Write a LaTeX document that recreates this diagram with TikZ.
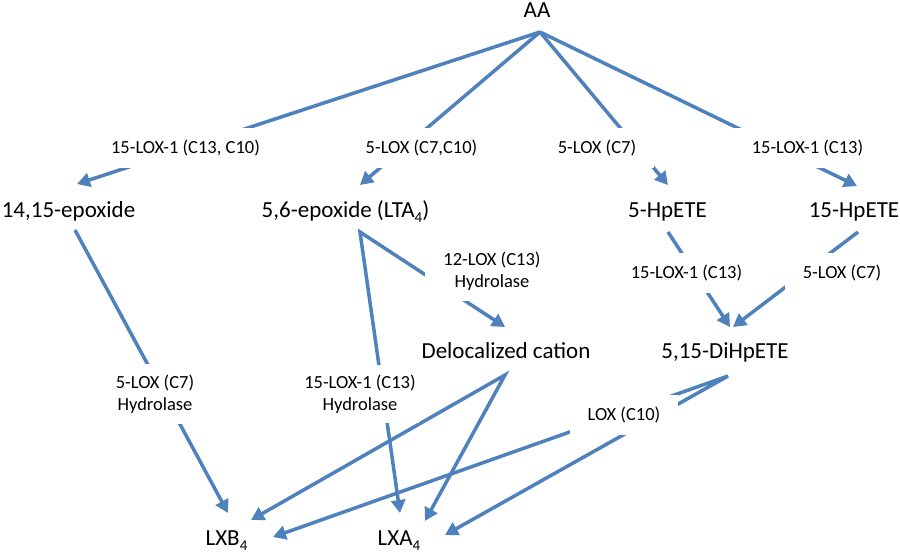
\documentclass[tikz,border=0pt]{standalone}
\usepackage{fontspec}
\setmainfont{Carlito}
\usetikzlibrary{arrows.meta}
\definecolor{lineblue}{HTML}{4F81BD}
\newcommand\subfour{\raisebox{-5pt}{\fontsize{15}{15}\selectfont 4}}
\begin{document}
\begin{tikzpicture}[x=1pt,y=-1pt,
  >={Triangle[length=13pt,width=14pt]},
  chem/.style={font=\fontsize{23}{27}\selectfont, inner sep=0pt, anchor=base},
  enz/.style={font=\fontsize{18.5}{22}\selectfont, fill=white, text height=14pt, text depth=3pt, inner xsep=18pt, inner ysep=11.5pt},
  enzz/.style={font=\fontsize{18.5}{22}\selectfont, fill=white, align=center, inner xsep=18pt, inner ysep=11pt},
  conn/.style={draw=lineblue, line width=3.5pt, line join=miter, miter limit=6},
]
\useasboundingbox (0,0) rectangle (900,552);
\fill[white] (0,0) rectangle (900,552);

% compounds
\node[chem] (AA)    at (537,17)    {AA};
\node[chem] (e1415) at (68.5,217)  {14,15-epoxide};
\node[chem] (e56)   at (345.5,217) {5,6-epoxide (LTA\subfour)};
\node[chem] (h5)    at (667.5,217) {5-HpETE};
\node[chem] (h15)   at (854,217)   {15-HpETE};
\node[chem] (deloc) at (506,358)   {Delocalized cation};
\node[chem] (dih)   at (725,358)   {5,15-DiHpETE};
\node[chem] (lxb)   at (226.5,545) {LXB\subfour};
\node[chem] (lxa)   at (399,545)   {LXA\subfour};

% connectors
\draw[conn,->] ([shift={(3,15)}]AA.base) -- ([shift={(8.5,-33)}]e1415.base);
\draw[conn,->] ([shift={(3,15)}]AA.base) -- ([shift={(14.5,-32)}]e56.base);
\draw[conn,->] ([shift={(3,15)}]AA.base) -- ([shift={(0.5,-32)}]h5.base);
\draw[conn,->] ([shift={(3,15)}]AA.base) -- ([shift={(3,-31)}]h15.base);
\draw[conn,->] ([shift={(6.5,13)}]e1415.base) -- ([shift={(1.5,-32)}]lxb.base);
\draw[conn,<->] ([shift={(1,-32)}]lxa.base) -- ([shift={(14.5,15)}]e56.base) -- ([shift={(-1,-31)}]deloc.base);
\draw[conn,->] ([shift={(0.5,15)}]h5.base) -- ([shift={(5,-31)}]dih.base);
\draw[conn,->] ([shift={(4,15)}]h15.base) -- ([shift={(8,-31)}]dih.base);
\draw[conn,<->] ([shift={(24.5,-25)}]lxb.base) -- ([shift={(-1,17)}]deloc.base) -- ([shift={(26,-24)}]lxa.base);
\draw[conn,<->] ([shift={(46.5,-8)}]lxb.base) -- ([shift={(3,18)}]dih.base) -- ([shift={(46,-10)}]lxa.base);

% enzyme labels
\node[enz] (l1) at (185.5,147.5) {15-LOX-1 (C13, C10)};
\node[enz] (l2) at (421.5,147.5) {5-LOX (C7,C10)};
\node[enz] (l3) at (597,147.5)   {5-LOX (C7)};
\node[enz] (l4) at (807.5,147.5) {15-LOX-1 (C13)};
\node[enzz] (l5) at (492,271)    {12-LOX (C13)\\Hydrolase};
\node[enz] (l6) at (686.5,272.5) {15-LOX-1 (C13)};
\node[enz] (l7) at (842,272.5)   {5-LOX (C7)};
\node[enzz] (l8) at (155,394)    {5-LOX (C7)\\Hydrolase};
\node[enzz, inner xsep=3pt, inner ysep=10pt] (l9) at (360,394) {15-LOX-1 (C13)\\Hydrolase};
\node[enz] (l10) at (624,414.5)  {LOX (C10)};
\end{tikzpicture}
\end{document}
